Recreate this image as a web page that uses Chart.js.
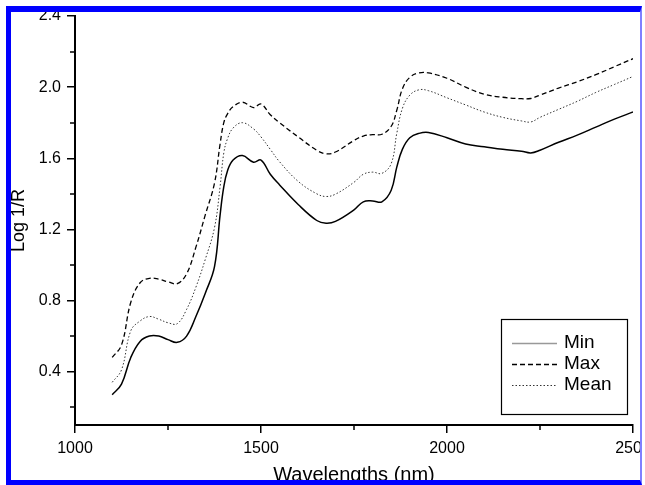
<!DOCTYPE html>
<html>
<head>
<meta charset="utf-8">
<script src="https://cdn.jsdelivr.net/npm/chart.js@4.4.1/dist/chart.umd.min.js"></script>
<style>
body { margin: 0; background: #fff; }
#frame {
    position: absolute; left: 6px; top: 6px; width: 629px; height: 468px;
    border-top: 6px solid #0000ff; border-left: 5px solid #0000ff;
    border-bottom: 5px solid #0000ff; border-right: 2px solid #8080ff;
    overflow: hidden; background: #fff;
}
#wrap { position: absolute; left: -11px; top: -12px; width: 645px; height: 485px; }
</style>
</head>
<body>
<div id="frame"><div id="wrap"><canvas id="spectra"></canvas></div></div>
<script>
// Wellenlängen (nm) und Spektren (Log 1/R)
var wavelengths = [1100, 1125, 1150, 1175, 1200, 1225, 1250, 1275, 1300, 1325, 1350, 1375, 1390, 1400, 1410, 1425,
    1450, 1480, 1500, 1525, 1550, 1600, 1650, 1675, 1700, 1750, 1775, 1800, 1825, 1850, 1865, 1880, 1900,
    1925, 1950, 2000, 2050, 2100, 2150, 2200, 2225, 2250, 2300, 2350, 2400, 2450, 2500];
var minValues = [0.27, 0.33, 0.48, 0.57, 0.60, 0.60, 0.58, 0.565, 0.60, 0.71, 0.84, 0.99, 1.28, 1.44, 1.53, 1.59,
    1.615, 1.578, 1.59, 1.51, 1.45, 1.34, 1.25, 1.235, 1.245, 1.31, 1.355, 1.36, 1.355, 1.42, 1.55, 1.65, 1.715,
    1.74, 1.745, 1.715, 1.68, 1.665, 1.65, 1.64, 1.63, 1.645, 1.69, 1.73, 1.775, 1.82, 1.86];
var maxValues = [0.48, 0.55, 0.79, 0.90, 0.925, 0.92, 0.905, 0.895, 0.95, 1.10, 1.28, 1.46, 1.68, 1.80, 1.85, 1.89,
    1.915, 1.885, 1.905, 1.845, 1.80, 1.72, 1.645, 1.625, 1.635, 1.70, 1.725, 1.733, 1.735, 1.78, 1.87, 1.99, 2.055,
    2.08, 2.08, 2.05, 2.00, 1.96, 1.943, 1.935, 1.936, 1.955, 1.995, 2.03, 2.07, 2.115, 2.16];
var meanValues = [0.34, 0.41, 0.63, 0.685, 0.71, 0.695, 0.675, 0.67, 0.75, 0.875, 1.03, 1.21, 1.44, 1.63, 1.71, 1.77,
    1.80, 1.765, 1.72, 1.65, 1.58, 1.47, 1.40, 1.385, 1.398, 1.465, 1.51, 1.522, 1.515, 1.57, 1.74, 1.88, 1.955,
    1.985, 1.98, 1.94, 1.90, 1.86, 1.83, 1.81, 1.804, 1.83, 1.875, 1.92, 1.97, 2.015, 2.06];
var seriesNames = ['Min', 'Max', 'Mean'];

// Achsen
var xMajorTicks = [1000, 1500, 2000, 2500];
var xMinorTicks = [1250, 1750, 2250];
var yMajorTicks = [0.4, 0.8, 1.2, 1.6, 2.0, 2.4];
var yMinorTicks = [0.2, 0.6, 1.0, 1.4, 1.8, 2.2];

var fontFamily = '"Liberation Sans", Arial, sans-serif';

function toPoints(values) {
    return values.map(function(v, i) { return {x: wavelengths[i], y: v}; });
}

// kurze Zwischenstriche an den Achsen + Legende im Plotbereich
var extrasPlugin = {
    id: 'extras',
    afterDraw: function(chart) {
        var ctx = chart.ctx;
        var xs = chart.scales.x, ys = chart.scales.y;
        var area = chart.chartArea;
        ctx.save();
        ctx.strokeStyle = '#000';
        ctx.lineWidth = 1.5;
        ctx.beginPath();
        xMinorTicks.forEach(function(v) {
            var px = Math.round(xs.getPixelForValue(v));
            ctx.moveTo(px, area.bottom);
            ctx.lineTo(px, area.bottom + 5);
        });
        yMinorTicks.forEach(function(v) {
            var py = Math.round(ys.getPixelForValue(v));
            ctx.moveTo(area.left - 5, py);
            ctx.lineTo(area.left, py);
        });
        ctx.stroke();

        var boxW = 126, boxH = 95;
        var bx = area.right - 6 - boxW, by = area.bottom - 11 - boxH;
        ctx.fillStyle = '#fff';
        ctx.fillRect(bx, by, boxW, boxH);
        ctx.lineWidth = 1.2;
        ctx.strokeRect(bx + 0.5, by + 0.5, boxW, boxH);

        ctx.font = '19px ' + fontFamily;
        ctx.textBaseline = 'middle';
        chart.data.datasets.forEach(function(ds, i) {
            var ly = by + 24 + i * 21;
            ctx.beginPath();
            ctx.setLineDash(ds.borderDash || []);
            ctx.strokeStyle = i === 0 ? '#999' : ds.borderColor;
            ctx.lineWidth = ds.borderWidth;
            ctx.moveTo(bx + 11, ly + 0.5);
            ctx.lineTo(bx + 56, ly + 0.5);
            ctx.stroke();
            ctx.setLineDash([]);
            ctx.fillStyle = '#000';
            ctx.fillText(ds.label, bx + 63, ly);
        });
        ctx.restore();
    }
};

var axisGrid = { drawOnChartArea: false, tickLength: 8, color: '#000', lineWidth: 1.5 };
var axisBorder = { color: '#000', width: 2 };

new Chart(document.getElementById('spectra').getContext('2d'), {
    type: 'line',
    data: {
        datasets: [{
            label: seriesNames[0],
            data: toPoints(minValues),
            borderColor: '#000',
            borderWidth: 1.5
        }, {
            label: seriesNames[1],
            data: toPoints(maxValues),
            borderColor: '#000',
            borderWidth: 1.3,
            borderDash: [5, 3]
        }, {
            label: seriesNames[2],
            data: toPoints(meanValues),
            borderColor: '#333',
            borderWidth: 1,
            borderDash: [1.5, 2]
        }]
    },
    options: {
        responsive: true,
        maintainAspectRatio: false,
        animation: false,
        elements: {
            point: { radius: 0 },
            line: { tension: 0.4, fill: false }
        },
        layout: { padding: { top: 16, right: 12, bottom: 0, left: 0 } },
        plugins: { legend: { display: false }, tooltip: { enabled: false } },
        scales: {
            x: {
                type: 'linear',
                min: 1000,
                max: 2500,
                afterBuildTicks: function(s) { s.ticks = xMajorTicks.map(function(v) { return {value: v}; }); },
                afterFit: function(s) { s.height = 60; s.paddingLeft = 0; s.paddingRight = 0; },
                ticks: {
                    autoSkip: false, maxRotation: 0, padding: 6, color: '#000',
                    font: { family: fontFamily, size: 16 },
                    callback: function(v) { return String(v); }
                },
                grid: axisGrid,
                border: axisBorder,
                title: {
                    display: true, text: 'Wavelengths (nm)', color: '#000',
                    font: { family: fontFamily, size: 20, lineHeight: 1 },
                    padding: { top: 0, bottom: 0 }
                }
            },
            y: {
                type: 'linear',
                min: 0.1,
                max: 2.4,
                afterBuildTicks: function(s) { s.ticks = yMajorTicks.map(function(v) { return {value: v}; }); },
                afterFit: function(s) { s.width = 75; s.paddingTop = 0; s.paddingBottom = 0; },
                ticks: {
                    padding: 6, color: '#000',
                    font: { family: fontFamily, size: 16 },
                    callback: function(v) { return v.toFixed(1); }
                },
                grid: axisGrid,
                border: axisBorder,
                title: {
                    display: true, text: 'Log 1/R', color: '#000',
                    font: { family: fontFamily, size: 18 },
                    padding: { top: 8, bottom: 0 }
                }
            }
        }
    },
    plugins: [extrasPlugin]
});
</script>
</body>
</html>
